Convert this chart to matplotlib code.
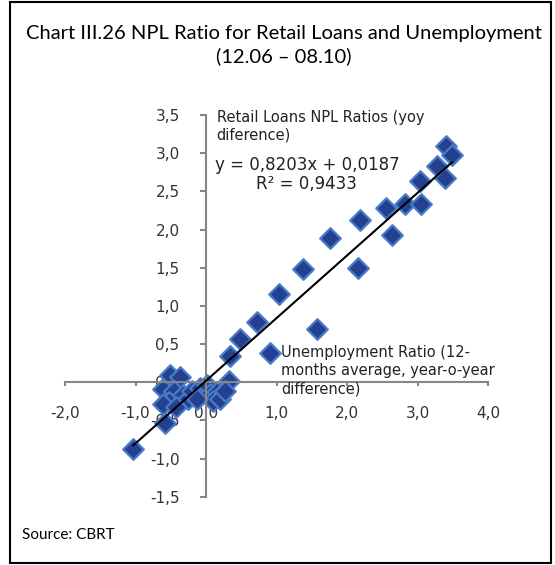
import matplotlib.pyplot as plt
import matplotlib.patches as patches
import numpy as np

# unemployment ratio (yoy difference) vs retail loans NPL ratio (yoy difference)
unemp = [3.41, 3.49, 3.27, 3.39, 3.04, 2.82, 3.05, 2.56, 2.64, 2.18,
         2.15, 1.76, 1.38, 1.04, 0.73, 0.48, 1.57, 0.34, 0.91, 0.32,
         -1.03, -0.58, -0.51, -0.37, -0.61, -0.46, -0.53, -0.61, -0.32, -0.25,
         -0.20, -0.09, 0.01, 0.06, 0.15, 0.10, 0.20, 0.27, -0.13, -0.42]
npl = [3.10, 2.97, 2.83, 2.68, 2.64, 2.34, 2.34, 2.28, 1.93, 2.13,
       1.49, 1.89, 1.48, 1.16, 0.79, 0.57, 0.70, 0.34, 0.38, 0.02,
       -0.87, -0.54, 0.09, 0.07, -0.09, -0.11, -0.26, -0.28, -0.17, -0.22,
       -0.11, -0.07, -0.04, -0.15, -0.13, -0.24, -0.22, -0.11, -0.22, -0.33]

slope = 0.8203
intercept = 0.0187
x_ticks = [-2, -1, 0, 1, 2, 3, 4]
y_ticks = [-1.5, -1.0, -0.5, 0, 0.5, 1.0, 1.5, 2.0, 2.5, 3.0, 3.5]

title = "Chart III.26 NPL Ratio for Retail Loans and Unemployment\n(12.06 \u2013 08.10)"

fig = plt.figure(figsize=(5.55, 5.65), dpi=100)
ax = fig.add_axes([65 / 555, 1 - 496.7 / 565, 423 / 555, 381.7 / 565])

ax.scatter(unemp, npl, marker='D', s=110, facecolor='#24418f',
           edgecolor='#4a7bc8', linewidth=1.6, zorder=2)

xs = np.array([min(unemp), max(unemp)])
ax.plot(xs, slope * xs + intercept, color='black', lw=1.5, zorder=3)

ax.set_xlim(-2, 4)
ax.set_ylim(-1.5, 3.5)
ax.set_xticks(x_ticks)
ax.set_yticks(y_ticks)

fmt = lambda v: f"{v:.1f}".replace('.', ',')
ax.set_xticklabels([fmt(v) for v in x_ticks])
ax.set_yticklabels([fmt(v) for v in y_ticks])

for side in ['top', 'right']:
    ax.spines[side].set_visible(False)
for side in ['left', 'bottom']:
    ax.spines[side].set_position(('data', 0))
    ax.spines[side].set_color('#868686')
    ax.spines[side].set_linewidth(1.5)
ax.tick_params(axis='x', direction='out', length=3, width=1.5, color='#868686',
               pad=14, labelsize=11, labelcolor='#333333')
ax.tick_params(axis='y', direction='out', length=4, width=1.5, color='#868686',
               pad=15, labelsize=11, labelcolor='#333333')
ax.patch.set_visible(False)

ax.text(0.15, 3.56, "Retail Loans NPL Ratios (yoy\ndiference)", fontsize=10.5,
        va='top', ha='left', color='#222222', linespacing=1.2)
ax.text(1.43, 2.72, "y = 0,8203x + 0,0187\nR\u00b2 = 0,9433", fontsize=12,
        va='center', ha='center', multialignment='center', color='#222222',
        linespacing=1.05)
ax.text(1.07, 0.15, "Unemployment Ratio (12-\nmonths average, year-o-year\ndifference)",
        fontsize=10.5, va='center', ha='left', color='#222222', linespacing=1.3)

fig.text(0.511, 1 - 45 / 565, title, ha='center', va='center', fontsize=14.5,
         family='Lato', linespacing=1.3)
fig.text(22 / 555, 1 - 535 / 565, "Source: CBRT", ha='left', va='center',
         fontsize=11, family='Lato')

frame = patches.Rectangle((10 / 555, 2 / 565), 541 / 555, 561 / 565,
                          transform=fig.transFigure, fill=False,
                          edgecolor='black', linewidth=1.5)
fig.patches.append(frame)

fig.savefig('out.png', dpi=100)
